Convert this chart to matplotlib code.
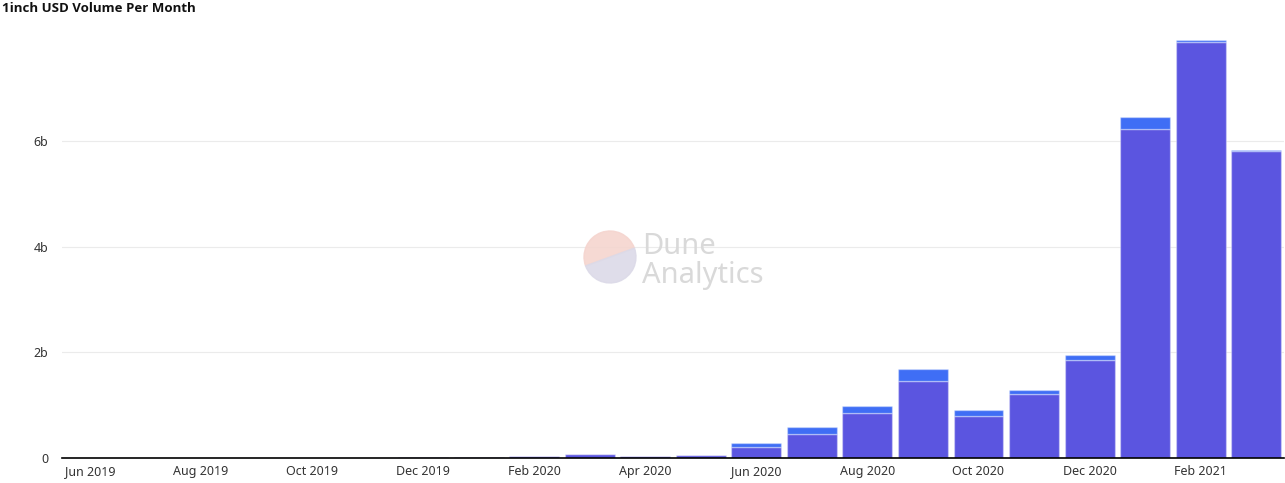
import numpy as np
import matplotlib.pyplot as plt
from matplotlib.patches import Wedge

months = ['Jun 2019', 'Jul 2019', 'Aug 2019', 'Sep 2019', 'Oct 2019', 'Nov 2019',
          'Dec 2019', 'Jan 2020', 'Feb 2020', 'Mar 2020', 'Apr 2020', 'May 2020',
          'Jun 2020', 'Jul 2020', 'Aug 2020', 'Sep 2020', 'Oct 2020', 'Nov 2020',
          'Dec 2020', 'Jan 2021', 'Feb 2021', 'Mar 2021']
# volumes in billions USD
base = [0.001, 0.001, 0.002, 0.002, 0.004, 0.006,
        0.010, 0.018, 0.040, 0.072, 0.040, 0.058,
        0.21, 0.45, 0.85, 1.46, 0.79, 1.22,
        1.86, 6.23, 7.88, 5.82]
extra = [0.0, 0.0, 0.0, 0.0, 0.0, 0.001,
         0.001, 0.002, 0.005, 0.008, 0.005, 0.007,
         0.074, 0.13, 0.135, 0.23, 0.11, 0.075,
         0.09, 0.22, 0.04, 0.02]
yticks = [0, 2, 4, 6]
ytick_labels = ['0', '2b', '4b', '6b']

plt.rcParams['font.family'] = ['Noto Sans', 'DejaVu Sans']

fig = plt.figure(figsize=(12.85, 4.83), dpi=100)
ax = fig.add_axes([62/1285, 25/483, 1222/1285, 433/483])

x = np.arange(len(months))
base = np.array(base)
extra = np.array(extra)
ax.bar(x, base, width=0.9, color='#5b55e0', edgecolor=(1, 1, 1, 0.35), linewidth=1, zorder=3)
ax.bar(x, extra, bottom=base, width=0.9, color='#3f6ef5', edgecolor=(1, 1, 1, 0.35), linewidth=1, zorder=3)

ax.set_xlim(-0.5, len(months) - 0.5)
ax.set_ylim(0, 8.2)
ax.set_yticks(yticks)
ax.set_yticklabels(ytick_labels)
ax.set_xticks(x[::2])
ax.set_xticklabels(months[::2])
ax.tick_params(axis='both', length=0, labelsize=9, colors='#333333')
ax.tick_params(axis='y', pad=10)
ax.tick_params(axis='x', pad=5)
ax.grid(axis='y', color='#ebebeb', linewidth=0.8, zorder=0)
for s in ['top', 'right', 'left']:
    ax.spines[s].set_visible(False)
ax.spines['bottom'].set_color('black')
ax.spines['bottom'].set_linewidth(1.2)
ax.spines['bottom'].set_zorder(4)

fig.text(2/1285, 1 - 8/483, '1inch USD Volume Per Month', fontsize=9.5,
         fontweight='bold', family=['Open Sans', 'DejaVu Sans'],
         va='center', ha='left', color='#111111')

# watermark
wax = fig.add_axes([0, 0, 1, 1], facecolor='none')
wax.set_xlim(0, 1285)
wax.set_ylim(483, 0)
wax.axis('off')
wax.set_aspect('equal')
wax.add_patch(Wedge((610, 257), 26, 160, 340, color='#f5d5cf', alpha=0.9, zorder=1))
wax.add_patch(Wedge((610, 257), 26, -20, 160, color='#dcdae8', alpha=0.9, zorder=1))
wax.text(642, 254, 'Dune', fontsize=21, color='#d9d9d9', va='baseline', ha='left')
wax.text(642, 283, 'Analytics', fontsize=21, color='#d9d9d9', va='baseline', ha='left')

fig.savefig('out.png', dpi=100)
